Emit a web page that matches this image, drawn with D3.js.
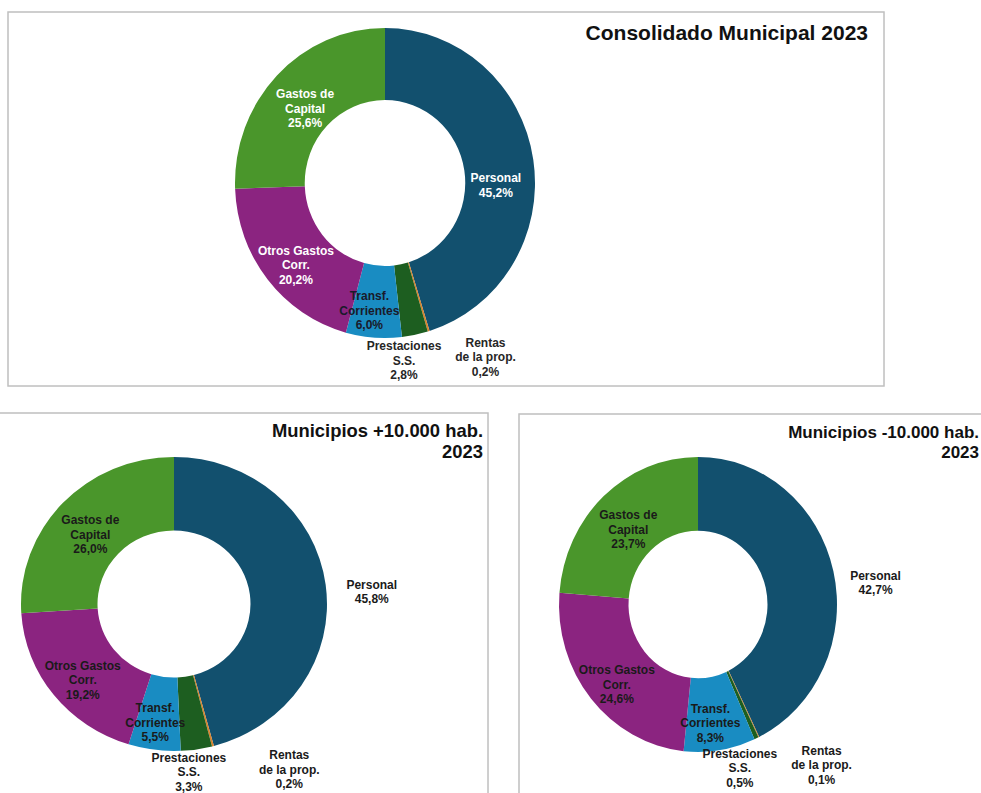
<!DOCTYPE html>
<html>
<head>
<meta charset="utf-8">
<script src="https://cdn.jsdelivr.net/npm/d3@7"></script>
<style>
  body { margin: 0; background: #fff; }
  svg { display: block; font-family: "Liberation Sans", Arial, sans-serif; }
</style>
</head>
<body>
<svg id="chart" width="981" height="793"></svg>
<script>
// categories, clockwise from 12 o'clock
var categories = ["Personal", "Rentas de la prop.", "Prestaciones S.S.", "Transf. Corrientes", "Otros Gastos Corr.", "Gastos de Capital"];
var labelLines = [["Personal"], ["Rentas", "de la prop."], ["Prestaciones", "S.S."], ["Transf.", "Corrientes"], ["Otros Gastos", "Corr."], ["Gastos de", "Capital"]];
var colors = ["#12506e", "#d9822b", "#1d5e20", "#198cc2", "#8b2480", "#4a962b"];

var consolidado = [45.2, 0.2, 2.8, 6.0, 20.2, 25.6];
var masDiezMil = [45.8, 0.2, 3.3, 5.5, 19.2, 26.0];
var menosDiezMil = [42.7, 0.1, 0.5, 8.3, 24.6, 23.7];

var titleConsolidado = ["Consolidado Municipal 2023"];
var titleMas = ["Municipios +10.000 hab.", "2023"];
var titleMenos = ["Municipios -10.000 hab.", "2023"];

var locale = d3.formatLocale({ decimal: ",", thousands: ".", grouping: [3], currency: ["", "€"] });
var fmt = locale.format(".1f");

var svg = d3.select("#chart");

// layout for each panel (positions only)
var panels = [
    {
        values: consolidado, title: titleConsolidado,
        box: [8, 12, 876, 374],
        cx: 385, cy: 183, r: 150, sy: 155 / 150, inner: 0.535,
        titleX: 868, titleY: 40, titleSize: 21, titleLh: 21,
        labelColors: ["#fff", "#262626", "#262626", "#1a1a2a", "#fff", "#fff"],
        offsets: [[-3, 20], [67, 60], [-4, 61], [-7, 9], [1, 8], [3, 8]]
    },
    {
        values: masDiezMil, title: titleMas,
        box: [-2, 413, 490, 400],
        cx: 174, cy: 604, r: 153, sy: 147 / 153, inner: 0.5,
        titleX: 483, titleY: 437, titleSize: 18.4, titleLh: 21,
        labelColors: ["#1a1a1a", "#1a1a1a", "#1a1a1a", "#1a1a1a", "#1a1a1a", "#1a1a1a"],
        offsets: [[84, 2], [86, 59], [-2, 59], [-4, 9], [-1, 8], [0, 6]]
    },
    {
        values: menosDiezMil, title: titleMenos,
        box: [519, 414, 480, 400],
        cx: 698, cy: 604.5, r: 139, sy: 147.5 / 139, inner: 0.5,
        titleX: 979, titleY: 438, titleSize: 17, titleLh: 20,
        labelColors: ["#1a1a1a", "#1a1a1a", "#1a1a1a", "#1a1a1a", "#1a1a1a", "#1a1a1a"],
        offsets: [[76, 3], [78, 61], [-2, 63], [-4, 9], [-1, 9], [1, 6]]
    }
];

var pie = d3.pie().sort(null).value(function(d) { return d; });

panels.forEach(function(p) {
    var g = svg.append("g");

    g.append("rect")
        .attr("x", p.box[0]).attr("y", p.box[1])
        .attr("width", p.box[2]).attr("height", p.box[3])
        .attr("fill", "#fff")
        .attr("stroke", "#bfbfbf")
        .attr("stroke-width", 1.5);

    var arcs = pie(p.values);
    var arc = d3.arc().innerRadius(p.r * p.inner).outerRadius(p.r);
    var rm = p.r * (1 + p.inner) / 2;
    var mid = d3.arc().innerRadius(rm).outerRadius(rm);

    g.append("g")
        .attr("transform", "translate(" + p.cx + "," + p.cy + ") scale(1," + p.sy + ")")
        .selectAll("path")
        .data(arcs)
        .enter().append("path")
        .attr("d", arc)
        .attr("fill", function(d, i) { return colors[i]; });

    var lh = 14.5;
    arcs.forEach(function(d, i) {
        var c = mid.centroid(d);
        var x = p.cx + c[0] + p.offsets[i][0];
        var y = p.cy + c[1] * p.sy + p.offsets[i][1];
        var lines = labelLines[i].concat([fmt(d.data) + "%"]);
        var y0 = y - (lines.length - 1) / 2 * lh + 4.3;
        var t = g.append("text")
            .attr("text-anchor", "middle")
            .attr("font-size", 12)
            .attr("font-weight", "bold")
            .attr("fill", p.labelColors[i]);
        lines.forEach(function(s, k) {
            t.append("tspan").attr("x", x).attr("y", y0 + k * lh).text(s);
        });
    });

    var tt = g.append("text")
        .attr("text-anchor", "end")
        .attr("font-size", p.titleSize)
        .attr("font-weight", "bold")
        .attr("fill", "#111");
    p.title.forEach(function(s, k) {
        tt.append("tspan").attr("x", p.titleX).attr("y", p.titleY + k * p.titleLh).text(s);
    });
});
</script>
</body>
</html>
